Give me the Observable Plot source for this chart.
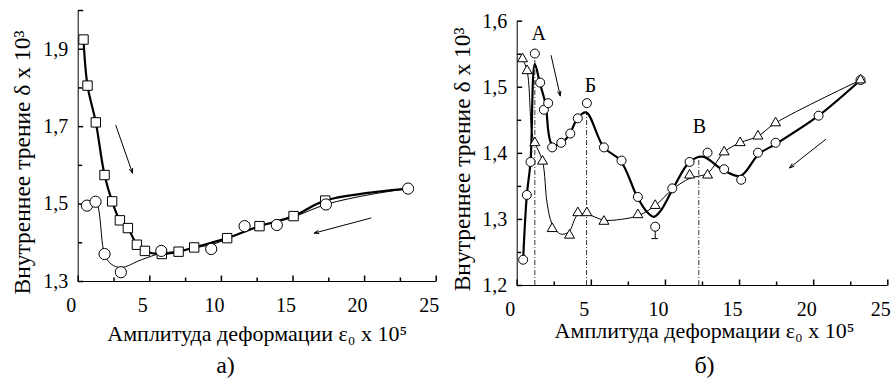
<!DOCTYPE html>
<html><head><meta charset="utf-8">
<script src="https://cdn.jsdelivr.net/npm/d3@7"></script>
<script src="https://cdn.jsdelivr.net/npm/@observablehq/plot@0.6"></script>
<style>
body{margin:0;background:#fff;}
#wrap{position:relative;width:894px;height:380px;overflow:hidden;background:#fff;}
#pa,#pb{position:absolute;top:0;}
#pa{left:0;} #pb{left:447px;}
#wrap svg, #wrap svg text{font-family:'Liberation Serif','Times New Roman','DejaVu Serif',serif !important;}
</style></head><body>
<div id="wrap"><div id="pa"></div><div id="pb"></div></div>
<script>
// ---------- shared axis values ----------
const xTicks = [0, 5, 10, 15, 20, 25];
const xMinor = [2.5, 7.5, 12.5, 17.5, 22.5];
const xTitle = "Амплитуда деформации ε₀ x 10⁵";
const yTitle = "Внутреннее трение δ x 10³";

// ---------- panel а) ----------
const aYTicks = [1.3, 1.5, 1.7, 1.9];
const aYMinor = [1.4, 1.6, 1.8, 2.0];
const aSqX = [0.37, 0.65, 1.23, 1.84, 2.37, 2.91, 3.47, 4.10, 4.66, 5.84, 7.01, 8.10, 10.40, 12.66, 15.04, 17.25];
const aSqY = [1.925, 1.806, 1.711, 1.575, 1.507, 1.458, 1.438, 1.395, 1.379, 1.371, 1.377, 1.388, 1.412, 1.443, 1.469, 1.509];
const aSqEndX = [23.04];
const aSqEndY = [1.540];
const aCirX = [0.61, 1.21, 1.84, 2.98, 5.80, 9.29, 11.62, 13.87, 17.30, 23.04];
const aCirY = [1.496, 1.506, 1.371, 1.324, 1.379, 1.384, 1.443, 1.446, 1.499, 1.540];
const aFitX = [0.61, 1.21, 1.84, 2.3, 3.0, 4.4, 5.8, 7.0, 8.1, 9.3, 10.4, 11.6, 12.7, 13.9, 15.0, 17.3, 20.3, 23.04];
const aFitY = [1.496, 1.506, 1.371, 1.345, 1.336, 1.356, 1.373, 1.378, 1.387, 1.395, 1.410, 1.430, 1.443, 1.454, 1.466, 1.499, 1.524, 1.540];
const aArrX1 = [2.63, 20.44], aArrY1 = [1.703, 1.464];
const aArrX2 = [3.79, 16.48], aArrY2 = [1.580, 1.425];

// ---------- panel б) ----------
const bYTicks = [1.2, 1.3, 1.4, 1.5, 1.6];
const bYMinor = [1.25, 1.35, 1.45, 1.55];
const bCirX = [0.40, 0.65, 0.90, 1.19, 1.55, 1.80, 2.09, 2.36, 2.97, 3.58, 4.09, 4.70, 5.85, 7.04, 8.14, 9.31, 10.46, 11.63, 12.84, 13.96, 15.11, 16.24, 17.43, 20.33, 23.16];
const bCirY = [1.239, 1.337, 1.387, 1.551, 1.507, 1.466, 1.476, 1.409, 1.416, 1.430, 1.453, 1.476, 1.409, 1.389, 1.334, 1.289, 1.347, 1.387, 1.401, 1.376, 1.360, 1.401, 1.416, 1.457, 1.511];
const bFitX = [0.40, 0.65, 0.90, 1.19, 1.53, 1.91, 2.34, 2.92, 3.53, 4.09, 4.65, 5.84, 6.97, 8.10, 8.77, 9.22, 9.67, 10.50, 11.63, 12.50, 13.94, 15.07, 16.30, 17.43, 20.33, 23.16];
const bFitY = [1.239, 1.337, 1.387, 1.535, 1.506, 1.475, 1.414, 1.414, 1.429, 1.454, 1.462, 1.409, 1.389, 1.334, 1.311, 1.304, 1.313, 1.346, 1.387, 1.395, 1.374, 1.366, 1.399, 1.414, 1.457, 1.511];
const bTriX = [0.36, 0.67, 1.19, 1.71, 2.36, 3.53, 4.09, 4.70, 5.85, 8.14, 9.31, 11.63, 12.84, 13.96, 15.04, 16.24, 17.43, 23.16];
const bTriY = [1.543, 1.525, 1.416, 1.388, 1.286, 1.276, 1.310, 1.310, 1.297, 1.307, 1.321, 1.367, 1.367, 1.402, 1.416, 1.426, 1.446, 1.511];
const bTriFitX = [0.36, 0.67, 1.0, 1.19, 1.71, 2.02, 2.36, 2.92, 3.48, 4.05, 4.68, 5.84, 6.97, 8.2, 9.31, 10.5, 11.63, 12.84, 13.96, 15.04, 16.24, 17.43, 23.16];
const bTriFitY = [1.543, 1.525, 1.43, 1.416, 1.388, 1.324, 1.293, 1.278, 1.281, 1.306, 1.308, 1.299, 1.300, 1.306, 1.321, 1.346, 1.362, 1.370, 1.402, 1.416, 1.426, 1.446, 1.511];
const bErrX = [9.31], bErrY1 = [1.289], bErrY2 = [1.271];
const bRuleX = [1.19, 4.68, 12.25];
const bRuleTop = [1.545, 1.462, 1.39];
const bLetters = ["А", "Б", "В"];
const bLetterX = [1.46, 4.95, 12.30];
const bLetterY = [1.581, 1.503, 1.441];
const bArrX1 = [2.29, 20.80], bArrY1 = [1.548, 1.421];
const bArrX2 = [2.90, 18.37], bArrY2 = [1.487, 1.378];

// ---------- helpers ----------
const serif = "'Liberation Serif','Times New Roman','DejaVu Serif',serif";
const svgStyle = `font-family: ${serif}; font-size: 20px; color: black; background: white; overflow: visible;`;
const zip = (xs, ys) => xs.map((x, i) => ({x, y: ys[i]}));
const fmt = d => d.toFixed(1).replace(".", ",");
const tickSym = (dx, dy) => ({draw(ctx) { ctx.moveTo(0, 0); ctx.lineTo(dx, dy); }});

function frameAxes(y0, yMaj, yMin) {
  return [
    Plot.ruleX([0], {stroke: "black", strokeWidth: 1}),
    Plot.ruleY([y0], {stroke: "black", strokeWidth: 1}),
    Plot.dot(xTicks, {x: d => d, y: () => y0, symbol: tickSym(0, -6), r: 1, stroke: "black", fill: "none"}),
    Plot.dot(xMinor, {x: d => d, y: () => y0, symbol: tickSym(0, -4), r: 1, stroke: "black", fill: "none"}),
    Plot.dot(yMaj, {x: () => 0, y: d => d, symbol: tickSym(5, 0), r: 1, stroke: "black", fill: "none"}),
    Plot.dot(yMin, {x: () => 0, y: d => d, symbol: tickSym(4, 0), r: 1, stroke: "black", fill: "none"}),
    Plot.axisX(xTicks, {tickSize: 0, tickPadding: 16, dx: -7, label: null, fontSize: 20, fill: "black"}),
  ];
}

// ---------- panel а) ----------
const plotA = Plot.plot({
  width: 447, height: 380,
  marginLeft: 77.7, marginRight: 11.3, marginTop: 10, marginBottom: 99,
  style: svgStyle,
  x: {domain: [0, 25]},
  y: {domain: [1.3, 2.0]},
  marks: [
    ...frameAxes(1.3, aYTicks.concat([2.0]), [1.4, 1.6, 1.8]),
    Plot.axisY(aYTicks, {tickSize: 0, tickPadding: 10, tickFormat: fmt, label: null, fontSize: 20, fill: "black"}),
    Plot.line(zip(aFitX, aFitY), {x: "x", y: "y", curve: "catmull-rom", stroke: "black", strokeWidth: 1}),
    Plot.line(zip(aSqX.concat(aSqEndX), aSqY.concat(aSqEndY)), {x: "x", y: "y", curve: "catmull-rom", stroke: "black", strokeWidth: 2.2}),
    Plot.dot(zip(aSqX, aSqY), {x: "x", y: "y", symbol: "square", r: 5.3, fill: "white", stroke: "black", strokeWidth: 1}),
    Plot.dot(zip(aCirX, aCirY), {x: "x", y: "y", symbol: "circle", r: 5.6, fill: "white", stroke: "black", strokeWidth: 1}),
    Plot.arrow(aArrX1.map((x, i) => ({x1: x, y1: aArrY1[i], x2: aArrX2[i], y2: aArrY2[i]})),
      {x1: "x1", y1: "y1", x2: "x2", y2: "y2", stroke: "black", strokeWidth: 1, headLength: 7, headAngle: 40}),
    Plot.text([yTitle], {frameAnchor: "left", rotate: -90, dx: -56, dy: 16.5, fontSize: 23.5, textAnchor: "middle", lineAnchor: "middle", fill: "black"}),
    Plot.text([xTitle], {frameAnchor: "bottom", dx: 0, dy: 52, fontSize: 22, textAnchor: "middle", lineAnchor: "middle", fill: "black"}),
    Plot.text(["а)"], {frameAnchor: "bottom", dx: -31.7, dy: 84, fontSize: 24, textAnchor: "middle", lineAnchor: "middle", fill: "black"})
  ]
});
document.getElementById("pa").appendChild(plotA);

// ---------- panel б) ----------
const plotB = Plot.plot({
  width: 447, height: 380,
  marginLeft: 69.7, marginRight: 6.7, marginTop: 20.7, marginBottom: 95,
  style: svgStyle,
  x: {domain: [0, 25]},
  y: {domain: [1.2, 1.6]},
  marks: [
    ...frameAxes(1.2, bYTicks, bYMinor),
    Plot.axisY(bYTicks, {tickSize: 0, tickPadding: 10, tickFormat: fmt, label: null, fontSize: 20, fill: "black"}),
    Plot.ruleX(bRuleX.map((x, i) => ({x, top: bRuleTop[i]})), {x: "x", y1: () => 1.2, y2: "top", stroke: "black", strokeWidth: 0.8, strokeDasharray: "5,2,1,2"}),
    Plot.line(zip(bTriFitX, bTriFitY), {x: "x", y: "y", curve: "catmull-rom", stroke: "black", strokeWidth: 1}),
    Plot.line(zip(bFitX, bFitY), {x: "x", y: "y", curve: "catmull-rom", stroke: "black", strokeWidth: 2.2}),
    Plot.ruleX(bErrX.map((x, i) => ({x, y1: bErrY1[i], y2: bErrY2[i]})), {x: "x", y1: "y1", y2: "y2", stroke: "black", strokeWidth: 1}),
    Plot.ruleY(bErrX.map((x, i) => ({x1: x - 0.22, x2: x + 0.22, y: bErrY2[i]})), {x1: "x1", x2: "x2", y: "y", stroke: "black", strokeWidth: 1}),
    Plot.dot(zip(bCirX, bCirY), {x: "x", y: "y", symbol: "circle", r: 4.5, fill: "white", stroke: "black", strokeWidth: 1}),
    Plot.dot(zip(bTriX, bTriY), {x: "x", y: "y", symbol: "triangle", r: 3.7, fill: "white", stroke: "black", strokeWidth: 1}),
    Plot.text(bLetters.map((t, i) => ({t, x: bLetterX[i], y: bLetterY[i]})), {x: "x", y: "y", text: "t", fontSize: 20, fill: "black", textAnchor: "middle", lineAnchor: "middle"}),
    Plot.arrow(bArrX1.map((x, i) => ({x1: x, y1: bArrY1[i], x2: bArrX2[i], y2: bArrY2[i]})),
      {x1: "x1", y1: "y1", x2: "x2", y2: "y2", stroke: "black", strokeWidth: 1, headLength: 7, headAngle: 40}),
    Plot.text([yTitle], {frameAnchor: "left", rotate: -90, dx: -55, dy: 6, fontSize: 23.5, textAnchor: "middle", lineAnchor: "middle", fill: "black"}),
    Plot.text([xTitle], {frameAnchor: "bottom", dx: 2, dy: 45, fontSize: 22, textAnchor: "middle", lineAnchor: "middle", fill: "black"}),
    Plot.text(["б)"], {frameAnchor: "bottom", dx: 2, dy: 80, fontSize: 24, textAnchor: "middle", lineAnchor: "middle", fill: "black"})
  ]
});
document.getElementById("pb").appendChild(plotB);
</script>
</body></html>
